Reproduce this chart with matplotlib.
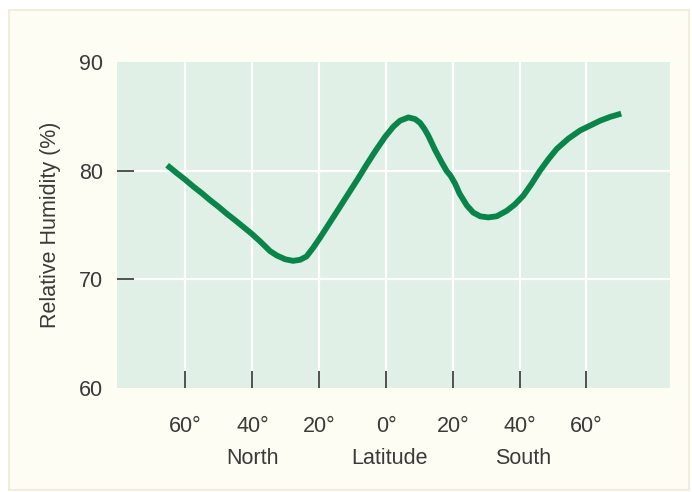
import numpy as np
import matplotlib.pyplot as plt
from matplotlib.patches import Rectangle
from matplotlib.transforms import blended_transform_factory

# latitude: negative = North, positive = South
lat = [-65.5, -62.7, -60.2, -57.7, -55.2, -52.7, -50.2, -47.7, -45.2, -40.2,
       -37.7, -34.7, -32.7, -30.2, -27.8, -25.7, -23.8, -21.8, -19.8, -17.8,
       -15.8, -13.3, -10.8, -8.3, -5.8, -3.3, -0.3, 2.2, 4.2, 6.7,
       8.7, 10.2, 11.5, 12.7, 14.7, 16.7, 18.2, 19.3, 20.7, 22.0,
       24.2, 26.1, 28.2, 30.6, 33.1, 36.1, 38.6, 41.1, 43.6, 46.1,
       48.6, 51.1, 54.6, 58.1, 61.1, 64.1, 67.1, 70.4]
humidity = [80.5, 79.8, 79.2, 78.55, 77.95, 77.3, 76.7, 76.05, 75.45, 74.2,
            73.5, 72.6, 72.2, 71.85, 71.7, 71.8, 72.1, 72.9, 73.8, 74.75,
            75.7, 76.9, 78.1, 79.3, 80.55, 81.75, 83.1, 84.05, 84.6, 84.9,
            84.75, 84.4, 83.85, 83.2, 81.9, 80.75, 79.95, 79.55, 78.8, 77.9,
            76.8, 76.15, 75.8, 75.7, 75.8, 76.3, 76.9, 77.7, 78.8, 80.0,
            81.05, 82.0, 82.95, 83.7, 84.15, 84.6, 84.95, 85.25]

xticks = [-60, -40, -20, 0, 20, 40, 60]
xticklabels = ["60°", "40°", "20°", "0°", "20°", "40°", "60°"]
yticks = [60, 70, 80, 90]

txt = "#3a3a3a"
fs = 15.5
plt.rcParams['font.family'] = ['Liberation Sans', 'DejaVu Sans']

fig = plt.figure(figsize=(6.92, 4.92), dpi=100, facecolor="white")
fig.patches.append(Rectangle((9 / 692, 2 / 492), 680 / 692, 480 / 492,
                             transform=fig.transFigure, facecolor="#fdfdf3",
                             edgecolor="#f1efdc", linewidth=1.5, zorder=-5))

ax = fig.add_axes([117 / 692, 1 - 388 / 492, 553 / 692, 326 / 492])
ax.set_facecolor("#e1f0e6")
ax.set_xlim(-80.5, 85)
ax.set_ylim(60, 90)

for x in xticks:
    ax.axvline(x, color="white", lw=1.6, zorder=1)
for y in [70, 80]:
    ax.axhline(y, color="white", lw=1.6, zorder=1)

ax.plot(lat, humidity, color="#0a8549", lw=4.2, solid_capstyle="butt",
        solid_joinstyle="round", zorder=3)

for s in ax.spines.values():
    s.set_visible(False)

ax.set_xticks(xticks)
ax.set_xticklabels(xticklabels)
ax.set_yticks(yticks)
ax.tick_params(axis="x", direction="in", length=12, width=1.2, color="#333333",
               pad=20, labelsize=fs, labelcolor=txt)
ax.tick_params(axis="y", direction="in", length=12.5, width=1.2, color="#333333",
               pad=10, labelsize=fs, labelcolor=txt)
# no tick marks at the 60 and 90 edges
ymt = ax.yaxis.get_major_ticks()
ymt[0].tick1line.set_visible(False)
ymt[-1].tick1line.set_visible(False)
ax.set_ylabel("Relative Humidity (%)", fontsize=fs, color=txt, labelpad=13)

tr = blended_transform_factory(ax.transData, fig.transFigure)
for x, s in [(-40, "North"), (1.2, "Latitude"), (41, "South")]:
    ax.text(x, 1 - 459 / 492, s, transform=tr, ha="center", va="center",
            fontsize=fs, color=txt)

fig.savefig("out.png", dpi=100, facecolor=fig.get_facecolor())
